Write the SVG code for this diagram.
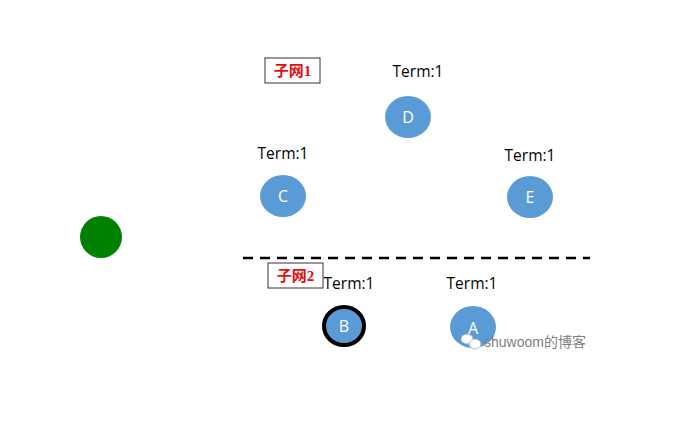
<svg xmlns="http://www.w3.org/2000/svg" width="685" height="430" viewBox="0 0 685 430">
<style>
.node{fill:#5b9bd5}
.lbl{font-family:"Open Sans","Liberation Sans",sans-serif;font-size:15.5px;fill:#000;text-anchor:middle}
.nl{font-family:"Open Sans","Liberation Sans",sans-serif;font-size:16px;fill:#fff;text-anchor:middle}
.tag{fill:#fff;stroke:#333;stroke-width:1}
.tagt{font-family:"Liberation Serif","Noto Sans CJK SC",serif;font-size:15px;font-weight:bold;fill:#e01010;text-anchor:middle}
</style>
<rect width="685" height="430" fill="#fff"/>
<g id="connectors">
<line x1="243" y1="258" x2="590" y2="258" stroke="#000" stroke-width="2.5" stroke-dasharray="10 7"/>
</g>
<g id="subnet1"><rect class="tag" x="265" y="58" width="55" height="25"/><text class="tagt" x="292.5" y="76">子网1</text></g>
<g id="subnet2"><rect class="tag" x="268" y="263" width="55" height="25"/><text class="tagt" x="295.5" y="281">子网2</text></g>
<g id="D"><text class="lbl" x="418" y="77">Term:1</text><ellipse class="node" cx="408" cy="117" rx="23" ry="21"/><text class="nl" x="408" y="123">D</text></g>
<g id="C"><text class="lbl" x="283" y="159">Term:1</text><ellipse class="node" cx="283" cy="196" rx="23" ry="21"/><text class="nl" x="283" y="202">C</text></g>
<g id="E"><text class="lbl" x="530" y="161">Term:1</text><ellipse class="node" cx="530" cy="197" rx="23" ry="21"/><text class="nl" x="530" y="203">E</text></g>
<g id="green"><ellipse cx="101" cy="237" rx="21" ry="21" fill="#008000"/></g>
<g id="B"><text class="lbl" x="349" y="289">Term:1</text><ellipse class="node" cx="344" cy="326" rx="20" ry="19" stroke="#000" stroke-width="4"/><text class="nl" x="344" y="332">B</text></g>
<g id="A"><text class="lbl" x="472" y="289">Term:1</text><ellipse class="node" cx="473" cy="327" rx="23" ry="21"/><text class="nl" x="473" y="334">A</text></g>
<g id="watermark">
<ellipse cx="467" cy="339" rx="6" ry="5" fill="#fff" stroke="#aaa" stroke-width="0.8"/>
<ellipse cx="475" cy="344" rx="6" ry="5" fill="#fff" stroke="#aaa" stroke-width="0.8"/>
<text x="484" y="347" font-family="'Liberation Sans','Noto Sans CJK SC',sans-serif" font-size="14" fill="#808080">shuwoom的博客</text>
</g>
</svg>
